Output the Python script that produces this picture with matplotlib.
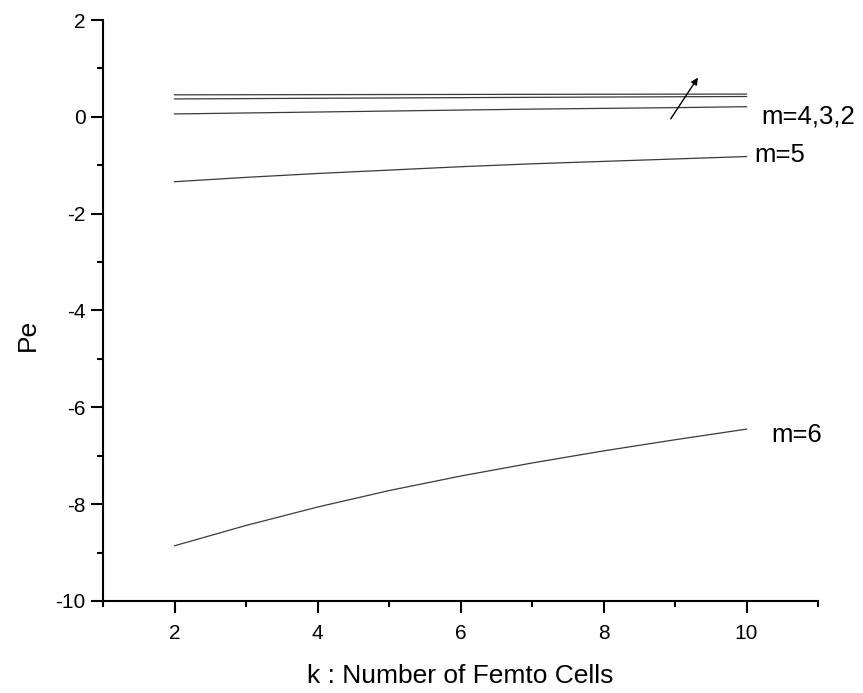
#!/usr/bin/env python3

import matplotlib
matplotlib.use("Agg")
import matplotlib.pyplot as plt
import numpy as np
from matplotlib.ticker import MultipleLocator

plt.rcParams['font.family'] = ['Liberation Sans', 'DejaVu Sans']
plt.rcParams['axes.unicode_minus'] = False

# values
k = [2, 3, 4, 5, 6, 7, 8, 9, 10]
pe_m2 = [0.455, 0.457, 0.459, 0.461, 0.463, 0.465, 0.467, 0.469, 0.47]
pe_m3 = [0.37, 0.377, 0.384, 0.39, 0.397, 0.403, 0.409, 0.415, 0.42]
pe_m4 = [0.06, 0.08, 0.10, 0.12, 0.14, 0.16, 0.175, 0.19, 0.21]
pe_m5 = [-1.34, -1.25, -1.17, -1.10, -1.03, -0.97, -0.92, -0.87, -0.82]
pe_m6 = [-8.86, -8.44, -8.06, -7.72, -7.42, -7.15, -6.90, -6.67, -6.45]

labels = ["m=4,3,2", "m=5", "m=6"]

fig = plt.figure(figsize=(8.63, 6.93), dpi=100)
ax = fig.add_axes([0.1194, 0.1328, 0.8285, 0.8383])

for ys in (pe_m2, pe_m3, pe_m4, pe_m5, pe_m6):
    ax.plot(k, ys, color='#3a3a3a', lw=0.9)

ax.set_xlim(1, 11)
ax.set_ylim(-10, 2)
ax.xaxis.set_major_locator(MultipleLocator(2))
ax.xaxis.set_minor_locator(MultipleLocator(1))
ax.yaxis.set_major_locator(MultipleLocator(2))
ax.yaxis.set_minor_locator(MultipleLocator(1))

for side in ('top', 'right'):
    ax.spines[side].set_visible(False)
for side in ('left', 'bottom'):
    ax.spines[side].set_linewidth(1.5)

ax.tick_params(which='major', direction='out', length=8.5, width=1.5, labelsize=15)
ax.tick_params(which='minor', direction='out', length=4.5, width=1.5)
ax.tick_params(axis='x', which='major', pad=8)
ax.tick_params(axis='y', which='major', pad=4)

ax.set_xlabel("k : Number of Femto Cells", fontsize=19)
ax.set_ylabel("Pe", fontsize=19)
ax.xaxis.set_label_coords(0.5, -0.129)
ax.xaxis.label.set_va('center')
ax.yaxis.set_label_coords(-0.105, 0.458)
ax.yaxis.label.set_va('center')

ax.text(10.21, 0.0, labels[0], fontsize=18.5, va='center', ha='left', clip_on=False)
ax.text(10.11, -0.79, labels[1], fontsize=18.5, va='center', ha='left', clip_on=False)
ax.text(10.35, -6.57, labels[2], fontsize=18.5, va='center', ha='left', clip_on=False)

ax.annotate("", xy=(9.32, 0.81), xytext=(8.94, -0.04),
            arrowprops=dict(arrowstyle='-|>', color='black', lw=1.0,
                            mutation_scale=10, shrinkA=0, shrinkB=0))

fig.savefig("out.png", dpi=100)
